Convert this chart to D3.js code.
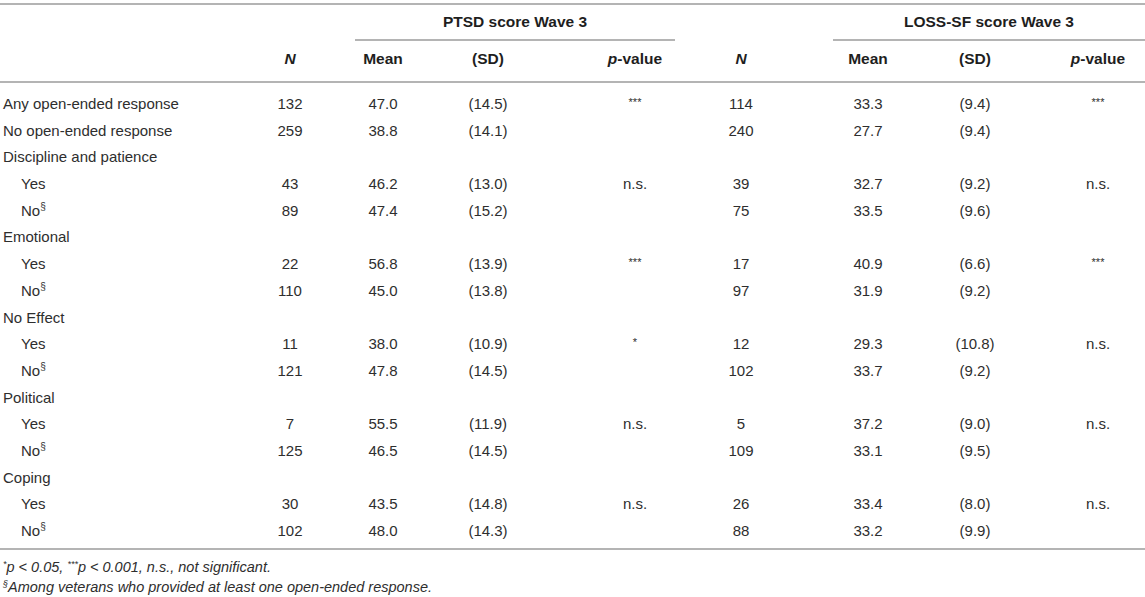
<!DOCTYPE html>
<html>
<head>
<meta charset="utf-8">
<style>
    body { margin: 0; background: #fff; }
    text { font-family: "Liberation Sans", Arial, sans-serif; fill: #2e2e2e; }
    .rule { stroke: #b4b4b4; stroke-width: 2; shape-rendering: crispEdges; }
    .head { font-weight: bold; fill: #1e1e1e; }
</style>
</head>
<body>
<div id="containerChart"></div>
<script src="https://cdn.jsdelivr.net/npm/d3@7"></script>
<script>
    var rowLabels = ["Any open-ended response", "No open-ended response", "Discipline and patience", "Yes", "No",
        "Emotional", "Yes", "No", "No Effect", "Yes", "No", "Political", "Yes", "No", "Coping", "Yes", "No"];
    // 0 = top level, 1 = indented sub row, 2 = indented with § mark
    var rowKind = [0, 0, 0, 1, 2, 0, 1, 2, 0, 1, 2, 0, 1, 2, 0, 1, 2];

    var ptsdN    = ["132", "259", "", "43", "89", "", "22", "110", "", "11", "121", "", "7", "125", "", "30", "102"];
    var ptsdMean = ["47.0", "38.8", "", "46.2", "47.4", "", "56.8", "45.0", "", "38.0", "47.8", "", "55.5", "46.5", "", "43.5", "48.0"];
    var ptsdSD   = ["(14.5)", "(14.1)", "", "(13.0)", "(15.2)", "", "(13.9)", "(13.8)", "", "(10.9)", "(14.5)", "", "(11.9)", "(14.5)", "", "(14.8)", "(14.3)"];
    var ptsdP    = ["***", "", "", "n.s.", "", "", "***", "", "", "*", "", "", "n.s.", "", "", "n.s.", ""];

    var lossN    = ["114", "240", "", "39", "75", "", "17", "97", "", "12", "102", "", "5", "109", "", "26", "88"];
    var lossMean = ["33.3", "27.7", "", "32.7", "33.5", "", "40.9", "31.9", "", "29.3", "33.7", "", "37.2", "33.1", "", "33.4", "33.2"];
    var lossSD   = ["(9.4)", "(9.4)", "", "(9.2)", "(9.6)", "", "(6.6)", "(9.2)", "", "(10.8)", "(9.2)", "", "(9.0)", "(9.5)", "", "(8.0)", "(9.9)"];
    var lossP    = ["***", "", "", "n.s.", "", "", "***", "", "", "n.s.", "", "", "n.s.", "", "", "n.s.", ""];

    var columns = ["ptsdN", "ptsdMean", "ptsdSD", "ptsdP", "lossN", "lossMean", "lossSD", "lossP"];
    var groups = ["PTSD score Wave 3", "LOSS-SF score Wave 3"];

    var svgWidth = 1145;
    var svgHeight = 597;

    var svg = d3.select("#containerChart")
        .append("svg")
        .attr("width", svgWidth)
        .attr("height", svgHeight);

    // column centres
    var xScale = d3.scaleOrdinal()
        .domain(columns)
        .range([290, 383, 488, 635, 741, 868, 975, 1098]);

    var groupScale = d3.scaleOrdinal()
        .domain(groups)
        .range([[355, 675], [833, 1145]]);

    // row baselines
    var yScale = d3.scaleLinear()
        .domain([0, rowLabels.length - 1])
        .range([109, 536]);

    // rules
    svg.append("line").attr("class", "rule").attr("x1", 0).attr("x2", svgWidth).attr("y1", 4).attr("y2", 4);
    svg.append("line").attr("class", "rule").attr("x1", 0).attr("x2", svgWidth).attr("y1", 82).attr("y2", 82);
    svg.append("line").attr("class", "rule").attr("x1", 0).attr("x2", svgWidth).attr("y1", 549).attr("y2", 549);

    svg.selectAll(".grule")
        .data(groups)
        .enter().append("line")
        .attr("class", "rule")
        .attr("x1", function (d) { return groupScale(d)[0]; })
        .attr("x2", function (d) { return groupScale(d)[1]; })
        .attr("y1", 40).attr("y2", 40);

    svg.selectAll(".ghead")
        .data(groups)
        .enter().append("text")
        .attr("class", "head")
        .attr("x", function (d) { return (groupScale(d)[0] + groupScale(d)[1]) / 2; })
        .attr("y", 27)
        .attr("text-anchor", "middle")
        .style("font-size", "15.5px")
        .text(function (d) { return d; });

    // column headers
    var colHeads = svg.selectAll(".chead")
        .data(columns)
        .enter().append("text")
        .attr("class", "head")
        .attr("x", function (d) { return xScale(d); })
        .attr("y", 64)
        .attr("text-anchor", "middle")
        .style("font-size", "15.5px");

    colHeads.each(function (d) {
        var t = d3.select(this);
        if (d.slice(-1) === "N") {
            t.append("tspan").style("font-style", "italic").text("N");
        } else if (d.indexOf("Mean") > 0) {
            t.text("Mean");
        } else if (d.indexOf("SD") > 0) {
            t.text("(SD)");
        } else {
            t.append("tspan").style("font-style", "italic").text("p");
            t.append("tspan").text("-value");
        }
    });

    // row labels
    var labels = svg.selectAll(".rlabel")
        .data(rowLabels)
        .enter().append("text")
        .attr("x", function (d, i) { return rowKind[i] ? 21 : 3; })
        .attr("y", function (d, i) { return yScale(i); })
        .style("font-size", "15px")
        .text(function (d) { return d; });

    labels.filter(function (d, i) { return rowKind[i] === 2; })
        .append("tspan")
        .attr("dy", -6)
        .style("font-size", "10px")
        .text("§");

    // cells
    var colData = {
        ptsdN: ptsdN, ptsdMean: ptsdMean, ptsdSD: ptsdSD, ptsdP: ptsdP,
        lossN: lossN, lossMean: lossMean, lossSD: lossSD, lossP: lossP
    };
    columns.forEach(function (c) {
        svg.selectAll(".cell-" + c)
            .data(colData[c])
            .enter().append("text")
            .attr("x", xScale(c))
            .attr("y", function (d, i) { return yScale(i) + (d.charAt(0) === "*" ? -3 : 0); })
            .attr("text-anchor", "middle")
            .style("font-size", function (d) { return d.charAt(0) === "*" ? "11px" : "15px"; })
            .text(function (d) { return d; });
    });

    // footnotes
    var f1 = svg.append("text").attr("x", 3).attr("y", 572).style("font-size", "14.5px").style("font-style", "italic");
    f1.append("tspan").attr("dy", -5).style("font-size", "9px").text("*");
    f1.append("tspan").attr("dy", 5).text("p < 0.05, ");
    f1.append("tspan").attr("dy", -5).style("font-size", "9px").text("***");
    f1.append("tspan").attr("dy", 5).text("p < 0.001, n.s., not significant.");

    var f2 = svg.append("text").attr("x", 3).attr("y", 592).style("font-size", "14.5px").style("font-style", "italic");
    f2.append("tspan").attr("dy", -5).style("font-size", "9px").text("§");
    f2.append("tspan").attr("dy", 5).text("Among veterans who provided at least one open-ended response.");
</script>
</body>
</html>
